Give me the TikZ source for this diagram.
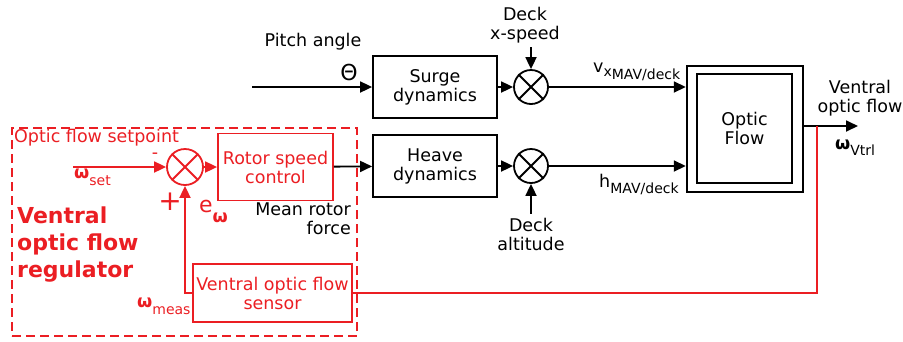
\documentclass[tikz,border=0pt]{standalone}
\usepackage{fontspec}
\setmainfont{DejaVu Sans}
\usepackage{xcolor}
\definecolor{regred}{RGB}{235,30,35}
\usetikzlibrary{arrows.meta}

\newcommand{\subtxt}[2][-6pt]{\raisebox{#1}{\fontsize{14}{16}\selectfont #2}}
\newcommand{\bomega}{{\bfseries ω}}

\begin{document}
\begin{tikzpicture}[x=1pt, y=1pt,
  font=\fontsize{17.5}{19}\selectfont,
  blk/.style={rectangle, draw, line width=1.8pt, align=center, inner sep=2pt},
  rblk/.style={blk, draw=regred, text=regred},
  sum/.style={circle, draw, line width=1.8pt, minimum size=34pt, inner sep=0pt},
  arr/.style={-{Triangle[length=12pt, width=11pt]}, line width=1.8pt},
  rarr/.style={arr, regred},
  lbl/.style={inner sep=0pt, align=center},
  frame/.style={rectangle, draw=regred, line width=2.6pt, dash pattern=on 9pt off 5pt, minimum width=345pt, minimum height=208pt}
]
  \useasboundingbox (0,0) rectangle (903,-341);

  \node[frame] (reg) at (184.5,-232) {};

  \node[blk, minimum width=124pt, minimum height=62pt] (surge) at (435,-87) {Surge\\dynamics};
  \node[blk, minimum width=124pt, minimum height=62pt] (heave) at (435,-166) {Heave\\dynamics};
  \node[sum] (sumx) at (531,-87) {};
  \node[sum] (sumh) at (531,-166) {};
  \node[blk, line width=2.4pt, minimum width=116pt, minimum height=126pt] (optic) at (745,-129) {};
  \node[blk, minimum width=95pt, minimum height=109pt] (optin) at (744.5,-128.5) {Optic\\Flow};

  \node[rblk, minimum width=115pt, minimum height=67pt] (rotor) at (275.5,-167) {Rotor speed\\control};
  \node[rblk, minimum width=159pt, minimum height=58pt] (sensor) at (272.5,-293) {Ventral optic flow\\sensor};
  \node[sum, draw=regred, minimum size=36pt] (sumw) at (185,-167) {};

  \foreach \s in {sumx, sumh} {
    \draw[line width=1.8pt] (\s.north west) -- (\s.south east) (\s.north east) -- (\s.south west);
  }
  \draw[line width=1.8pt, regred] (sumw.north west) -- (sumw.south east) (sumw.north east) -- (sumw.south west);

  \node[lbl] (pitch) at (313,-42) {Pitch angle};
  \node[lbl, font=\fontsize{22}{24}\selectfont] (theta) at (349,-72) {Θ};
  \node[lbl] (dxs) at (525,-25) {Deck\\x-speed};
  \node[lbl] (dalt) at (531,-234) {Deck\\altitude};
  \node[lbl, anchor=base west] (vlab) at (593,-72) {v\subtxt[-4pt]{x\raisebox{-3pt}{MAV/deck}}};
  \node[lbl, anchor=base west] (hlab) at (599,-187) {h\subtxt{MAV/deck}};
  \node[lbl] (vof) at (860,-98.5) {Ventral\\optic flow};
  \node[lbl, anchor=base west] (wvtrl) at (835,-149) {\bomega\subtxt{Vtrl}};
  \node[lbl, anchor=east, align=right] (force) at (351,-219) {Mean rotor\\force};

  \node[lbl, anchor=west, text=regred] (setp) at (14,-138) {Optic flow setpoint};
  \node[lbl, text=regred] (minus) at (155,-156) {-};
  \node[lbl, text=regred, font=\fontsize{28}{30}\selectfont] (plus) at (170,-202) {+};
  \node[lbl, anchor=base west, text=regred] (wset) at (74,-178) {\bomega\subtxt[-7pt]{set}};
  \node[lbl, anchor=base west, text=regred] (ew) at (199,-212) {{\fontsize{22}{24}\selectfont e}\raisebox{-10pt}{\bomega}};
  \node[lbl, anchor=base west, text=regred] (wmeas) at (137,-307) {\bomega\subtxt[-7pt]{meas}};
  \node[lbl, anchor=west, align=left, text=regred, font=\fontsize{22}{27}\selectfont\bfseries] (title) at (17,-245) {Ventral\\optic flow\\regulator};

  \coordinate (pin) at (252,-87);
  \coordinate (win) at (73,-167);
  \coordinate (vout) at (858,-126);
  \coordinate (tap) at (817,-126);

  \draw[arr] (pin) -- (surge);
  \draw[arr] (surge) -- (sumx);
  \draw[arr] (sumx) -- (sumx -| optic.west);
  \draw[arr] ([yshift=-4pt]dxs.south -| sumx.north) -- (sumx.north);
  \draw[arr] (heave) -- (sumh);
  \draw[arr] (sumh) -- (sumh -| optic.west);
  \draw[arr] ([yshift=4pt]dalt.north) -- (sumh.south);
  \draw[arr] (optic.east |- vout) -- (vout);
  \draw[arr] (rotor) -- (heave);

  \draw[rarr] (win) -- (sumw);
  \draw[rarr] (sumw) -- (rotor);
  \draw[rarr] (sensor.west) -| (sumw.south);
  \draw[line width=1.8pt, regred] (sensor.east) -| (tap);
\end{tikzpicture}
\end{document}
